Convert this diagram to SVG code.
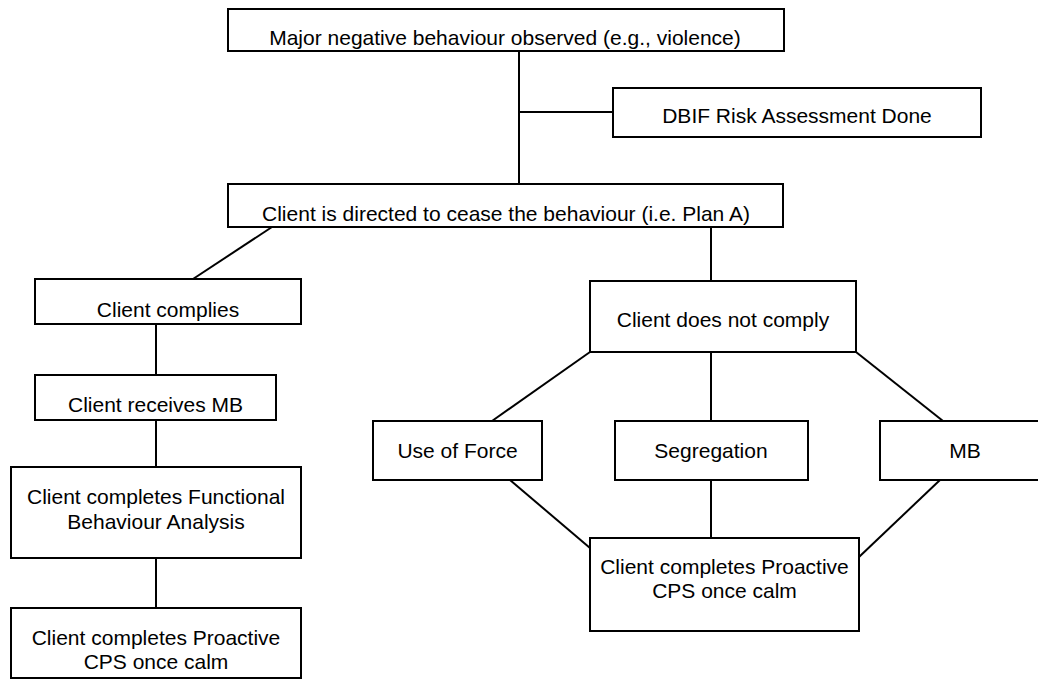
<svg xmlns="http://www.w3.org/2000/svg" width="1038" height="680" viewBox="0 0 1038 680">
<style>
.box{fill:#fff;stroke:#000;stroke-width:2}
.t{font-family:"Liberation Sans",Arial,sans-serif;font-size:21px;fill:#000;text-anchor:middle}
.c line{stroke:#000;stroke-width:2}
</style>
<rect width="1038" height="680" fill="#fff"/>
<g class="c" id="connectors">
<line x1="519" y1="51" x2="519" y2="184"/>
<line x1="519" y1="112" x2="613" y2="112"/>
<line x1="272" y1="227" x2="193" y2="279"/>
<line x1="711" y1="227" x2="711" y2="281"/>
<line x1="156" y1="324" x2="156" y2="375"/>
<line x1="156" y1="420" x2="156" y2="467"/>
<line x1="156" y1="558" x2="156" y2="608"/>
<line x1="590" y1="352" x2="492" y2="421"/>
<line x1="711" y1="352" x2="711" y2="421"/>
<line x1="856" y1="352" x2="943" y2="421"/>
<line x1="510" y1="480" x2="590" y2="548"/>
<line x1="711" y1="480" x2="711" y2="538"/>
<line x1="940" y1="480" x2="859" y2="557"/>
</g>
<g id="n-major"><rect class="box" x="228" y="9" width="556" height="42"/><text class="t" x="505" y="45">Major negative behaviour observed (e.g., violence)</text></g>
<g id="n-dbif"><rect class="box" x="613" y="88" width="368" height="49"/><text class="t" x="797" y="123">DBIF Risk Assessment Done</text></g>
<g id="n-directed"><rect class="box" x="228" y="184" width="555" height="43"/><text class="t" x="506" y="221">Client is directed to cease the behaviour (i.e. Plan A)</text></g>
<g id="n-complies"><rect class="box" x="35" y="279" width="266" height="45"/><text class="t" x="168" y="317">Client complies</text></g>
<g id="n-receives"><rect class="box" x="35" y="375" width="241" height="45"/><text class="t" x="155.5" y="412">Client receives MB</text></g>
<g id="n-fba"><rect class="box" x="11" y="467" width="290" height="91"/><text class="t" x="156" y="504">Client completes Functional</text><text class="t" x="156" y="529">Behaviour Analysis</text></g>
<g id="n-cps-left"><rect class="box" x="11" y="608" width="290" height="70"/><text class="t" x="156" y="645">Client completes Proactive</text><text class="t" x="156" y="669">CPS once calm</text></g>
<g id="n-notcomply"><rect class="box" x="590" y="281" width="266" height="71"/><text class="t" x="723" y="327">Client does not comply</text></g>
<g id="n-force"><rect class="box" x="373" y="421" width="169" height="59"/><text class="t" x="457.5" y="458">Use of Force</text></g>
<g id="n-seg"><rect class="box" x="615" y="421" width="193" height="59"/><text class="t" x="711" y="458">Segregation</text></g>
<g id="n-mb"><rect class="box" x="880" y="421" width="170" height="59"/><text class="t" x="965" y="458">MB</text></g>
<g id="n-cps-right"><rect class="box" x="590" y="538" width="269" height="93"/><text class="t" x="724.5" y="574">Client completes Proactive</text><text class="t" x="724.5" y="598">CPS once calm</text></g>
</svg>
